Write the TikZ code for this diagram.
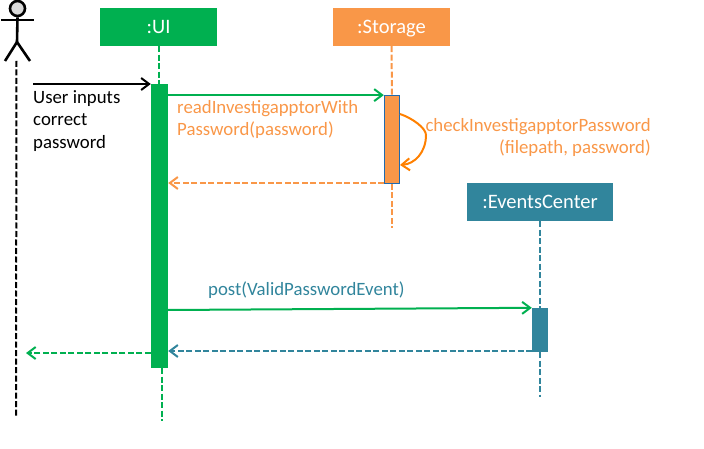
\documentclass[tikz,border=0pt]{standalone}
\usepackage{fontspec}
\setmainfont{Carlito}
\usetikzlibrary{arrows.meta}
\definecolor{uigreen}{HTML}{00B050}
\definecolor{storeorange}{HTML}{F99748}
\definecolor{selforange}{HTML}{FF8000}
\definecolor{eventteal}{HTML}{31859C}
\definecolor{barblue}{HTML}{1F6AAE}
\tikzset{
    objbox/.style={fill=#1,text=white,minimum height=38pt,inner sep=0pt,text height=13pt,text depth=0pt,font=\fontsize{20.5}{24}\selectfont},
    bar/.style={fill=#1,minimum width=17pt,inner sep=0pt},
    lifeline/.style={#1,line width=2pt,dash pattern=on 6pt off 2.5pt},
    msg/.style={#1,line width=2pt,-{Straight Barb[length=8pt,width=12pt,line width=2pt]}},
    ret/.style={#1,line width=2pt,dash pattern=on 6pt off 2.5pt,-{Straight Barb[length=8pt,width=12pt,line width=2pt]}},
    msgtext/.style={anchor=north west,inner sep=0pt,text=#1,align=left,font=\fontsize{18.8}{22.7}\selectfont},
}
\begin{document}
\begin{tikzpicture}[x=1pt,y=-1pt]
    \useasboundingbox (0,0) rectangle (704,449);
    %% objects
    \node[objbox=uigreen,minimum width=117pt] (uiBox) at (158.5,27) {:UI};
    \node[objbox=storeorange,minimum width=117pt] (storageBox) at (391.5,27) {:Storage};
    \node[objbox=eventteal,minimum width=146pt] (eventsBox) at (540,202) {:EventsCenter};
    %% activation bars
    \node[bar=uigreen,minimum height=284pt] (uiBar) at (159.5,226) {};
    \node[bar=storeorange,draw=barblue,line width=0.8pt,minimum width=15.5pt,minimum height=88pt] (storageBar) at (392,139.5) {};
    \node[bar=eventteal,minimum width=16pt,minimum height=44pt] (eventsBar) at (540,330) {};
    %% lifelines
    \coordinate (actorTop) at (16.5,61);
    \coordinate (actorEnd) at (16,416);
    \coordinate (uiEnd) at (162,421);
    \coordinate (storageEnd) at (392,228);
    \coordinate (eventsEnd) at (540,397);
    \draw[lifeline=black] (actorTop) -- (actorEnd);
    \draw[lifeline=uigreen] (uiBox.south) -- (uiBox.south |- uiBar.north);
    \draw[lifeline=uigreen] (uiEnd |- uiBar.south) -- (uiEnd);
    \draw[lifeline=storeorange] (storageBox.south) -- (storageBar.north);
    \draw[lifeline=storeorange] (storageBar.south) -- (storageEnd);
    \draw[lifeline=eventteal] (eventsBox.south) -- (eventsBar.north);
    \draw[lifeline=eventteal] (eventsBar.south) -- (eventsEnd);
    %% actor
    \node[circle,draw=black,fill=black!15,line width=2.6pt,minimum size=15pt,inner sep=0pt] (actorHead) at (17.5,8.5) {};
    \coordinate (actorHip) at (17,42);
    \draw[black,line width=2.6pt] (actorHead.south) -- (actorHip);
    \draw[black,line width=2.6pt] (1,20) -- (34,20);
    \draw[black,line width=2.6pt] (5,61) -- (actorHip) -- (30,61);
    %% messages
    \coordinate (userStart) at (33,84);
    \coordinate (userRetEnd) at (26,353);
    \coordinate (storeRet) at (384,183);
    \coordinate (postStart) at (168,310);
    \coordinate (eventsRet) at (532,351);
    \draw[msg=black] (userStart) -- (userStart -| uiBar.west);
    \draw[msg=uigreen] (uiBar.east |- storageBar.north) -- (storageBar.north west);
    \draw[ret=storeorange] (storeRet) -- (storeRet -| uiBar.east);
    \draw[msg=uigreen] (postStart) -- (eventsBar.north west);
    \draw[ret=eventteal] (eventsRet) -- (eventsRet -| uiBar.east);
    \draw[ret=uigreen] (uiBar.west |- userRetEnd) -- (userRetEnd);
    \coordinate (selfStart) at (400,114);
    \coordinate (selfEnd) at (400,165);
    \draw[msg=selforange] (selfStart) .. controls (412,118) and (426,128) .. (426,135) .. controls (426,152) and (415,164) .. (selfEnd);
    %% labels
    \node[msgtext=black] (userLabel) at (33,90) {User inputs\\correct\\password};
    \node[msgtext=storeorange] (readLabel) at (177,100) {readInvestigapptorWith\\Password(password)};
    \node[msgtext=storeorange,anchor=north east,align=right] (checkLabel) at (651,118) {checkInvestigapptorPassword\\(filepath, password)};
    \node[msgtext=eventteal] (postLabel) at (208,282) {post(ValidPasswordEvent)};
\end{tikzpicture}
\end{document}
